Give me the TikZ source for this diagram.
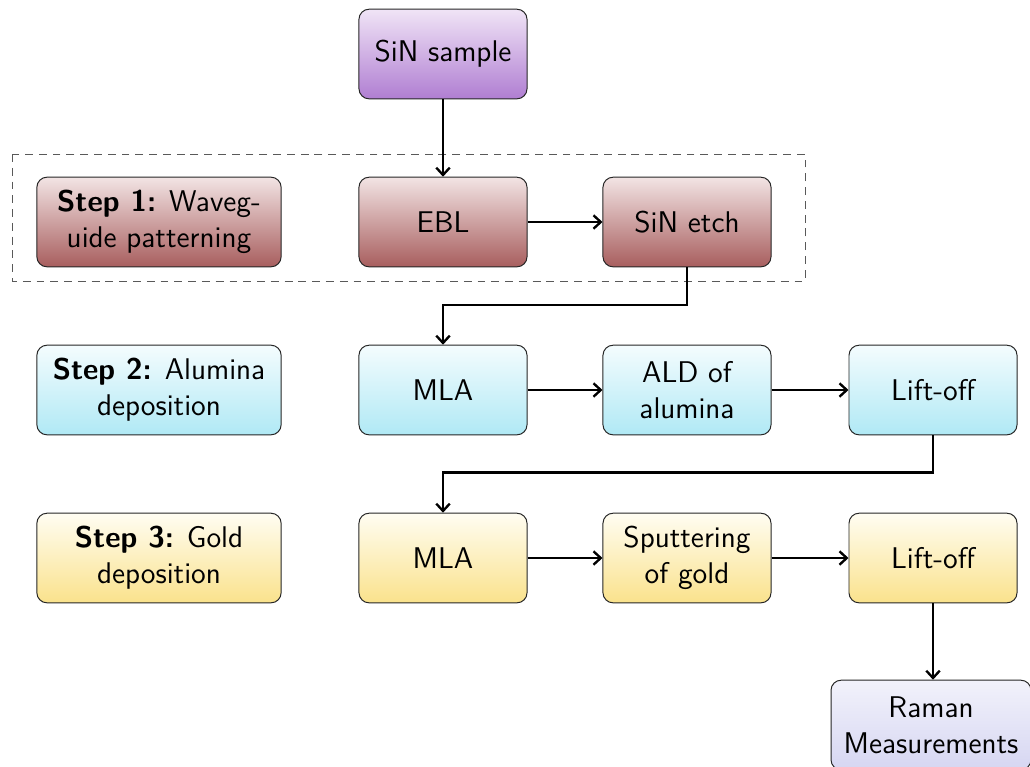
\documentclass[tikz,border=0pt]{standalone}
\usepackage{fontspec}
\renewcommand\familydefault{\sfdefault}
\usetikzlibrary{arrows.meta}
\definecolor{pTop}{HTML}{F0E4F6}\definecolor{pBot}{HTML}{B07ED2}
\definecolor{rTop}{HTML}{F2E4E4}\definecolor{rBot}{HTML}{A85E5E}
\definecolor{cTop}{HTML}{F4FCFE}\definecolor{cBot}{HTML}{B0E9F5}
\definecolor{yTop}{HTML}{FFFDF2}\definecolor{yBot}{HTML}{FAE28C}
\definecolor{lTop}{HTML}{F2F2FB}\definecolor{lBot}{HTML}{D6D6F2}
\tikzset{
  box/.style={draw=black!85, line width=0.5pt, rounded corners=0.18cm, minimum width=3cm, minimum height=1.6cm, align=center, font=\sffamily\fontsize{15.2}{18.3}\selectfont},
  stepbox/.style={box, minimum width=4.36cm},
  purplebox/.style={top color=pTop, bottom color=pBot},
  redbox/.style={top color=rTop, bottom color=rBot},
  cyanbox/.style={top color=cTop, bottom color=cBot},
  yellowbox/.style={top color=yTop, bottom color=yBot},
  lavbox/.style={top color=lTop, bottom color=lBot, minimum width=3.57cm},
  arr/.style={line width=1.2pt, -{Straight Barb[length=1.3mm,width=2.4mm]}},
  group/.style={draw=black!65, dash pattern=on 4pt off 3pt, line width=0.5pt}
}
\begin{document}
\begin{tikzpicture}[x=0.017857cm, y=-0.017857cm]
\useasboundingbox (0,0) rectangle (1030,766);
\draw[group] (12,154) rectangle (805,281);
% row 0
\node[box, purplebox] (s) at (443,54) {SiN sample};
% row 1
\node[stepbox, redbox] (st1) at (159,222) {\textbf{Step 1:} Waveg-\\uide patterning};
\node[box, redbox] (ebl) at (443,222) {EBL};
\node[box, redbox] (etch) at (687,222) {SiN etch};
% row 2
\node[stepbox, cyanbox] (st2) at (159,390) {\textbf{Step 2:} Alumina\\deposition};
\node[box, cyanbox] (mla2) at (443,390) {MLA};
\node[box, cyanbox] (ald) at (687,390) {ALD of\\alumina};
\node[box, cyanbox] (lo2) at (933,390) {Lift-off};
% row 3
\node[stepbox, yellowbox] (st3) at (159,558) {\textbf{Step 3:} Gold\\deposition};
\node[box, yellowbox] (mla3) at (443,558) {MLA};
\node[box, yellowbox] (sp) at (687,558) {Sputtering\\of gold};
\node[box, yellowbox] (lo3) at (933,558) {Lift-off};
% final
\node[box, lavbox] (ram) at (931,725) {Raman\\Measurements};
% connectors
\draw[arr] (s) -- (ebl);
\draw[arr] (ebl) -- (etch);
\draw[arr] (etch.south) -- ++(0,38) -| (mla2.north);
\draw[arr] (mla2) -- (ald);
\draw[arr] (ald) -- (lo2);
\draw[arr] (lo2.south) -- ++(0,37) -| (mla3.north);
\draw[arr] (mla3) -- (sp);
\draw[arr] (sp) -- (lo3);
\draw[arr] (lo3) -- (lo3 |- ram.north);
\end{tikzpicture}
\end{document}
